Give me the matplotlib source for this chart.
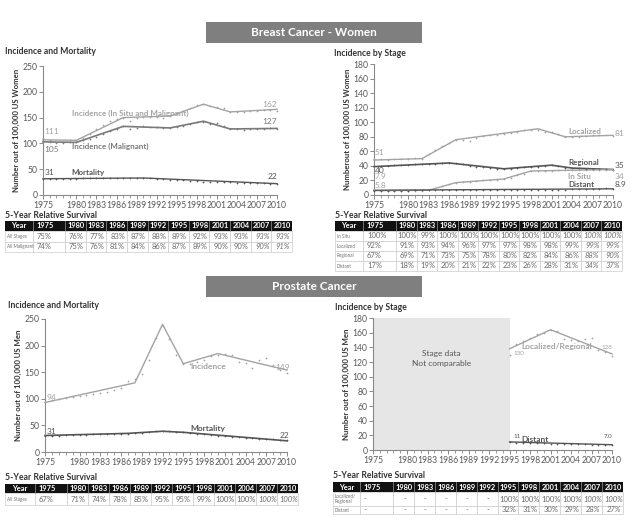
import matplotlib
matplotlib.use("Agg")
import matplotlib.pyplot as plt
from matplotlib.patches import Rectangle
from matplotlib.ticker import MultipleLocator
import numpy as np

plt.rcParams["font.family"] = ["Lato", "DejaVu Sans"]

W, H = 640, 522

# ------------------------------------------------------------------
# Data
# ------------------------------------------------------------------
years = list(range(1975, 2011))
tick_years = [1975, 1980, 1983, 1986, 1989, 1992, 1995, 1998, 2001, 2004, 2007, 2010]

# Breast - incidence and mortality (observed rates)
br_insitu_malig = [111, 106, 105, 105, 106, 107, 111, 118, 127, 135, 143, 148,
                   150, 143, 150, 152, 152, 151, 150, 153, 158, 162, 168, 174,
                   176, 172, 171, 169, 161, 160, 160, 162, 163, 164, 165, 162]
br_malignant = [105, 102, 101, 101, 102, 102, 106, 108, 113, 118, 124, 128,
                133, 128, 130, 133, 132, 131, 129, 130, 131, 133, 137, 141,
                142, 137, 139, 134, 127, 127, 126, 127, 128, 128, 130, 127]
br_mortality = [31, 31, 31, 31, 31, 31, 32, 32, 32, 33, 33, 32,
                33, 32, 33, 33, 32, 31, 31, 30, 29, 29, 28, 27,
                26, 26, 26, 25, 25, 24, 24, 24, 23, 23, 22, 22]
# trend (joinpoint) segments
br_insitu_malig_trend = ([1975, 1980, 1987, 1994, 1999, 2003, 2010],
                         [107, 106, 150, 153, 176, 161, 166])
br_malignant_trend = ([1975, 1980, 1987, 1994, 1999, 2003, 2010],
                      [103, 102, 133, 130, 143, 128, 129])
br_mortality_trend = ([1975, 1990, 2010], [31.5, 33, 22])

# Breast - incidence by stage
br_localized = [50, 49, 48, 49, 50, 50, 51, 50, 56, 62, 68, 72,
                76, 76, 74, 79, 81, 82, 82, 84, 85, 87, 89, 90,
                90, 87, 86, 84, 80, 80, 80, 81, 82, 82, 83, 81]
br_regional = [40, 40, 40, 41, 41, 41, 42, 43, 43, 43, 44, 44,
               44, 42, 40, 39, 38, 37, 36, 36, 36, 37, 38, 38,
               39, 40, 41, 40, 37, 37, 37, 36, 36, 36, 36, 35]
br_insitu = [7.9, 6, 6, 6, 6, 6, 6, 6, 7, 9, 12, 15,
             17, 18, 18, 19, 20, 21, 21, 22, 24, 27, 29, 33,
             33, 33, 33, 34, 34, 34, 35, 35, 35, 35, 35, 34]
br_distant = [5.8, 6, 6, 6, 6, 6, 7, 7, 7, 7, 7, 7,
              7, 7, 7, 7, 7, 7, 7, 7, 7, 7, 7, 7,
              7, 7, 7, 7, 7, 8, 8, 8, 8, 8, 9, 8.9]
br_localized_trend = ([1975, 1982, 1987, 1999, 2003, 2010], [48, 50, 76, 91, 80, 82])
br_regional_trend = ([1975, 1986, 1994, 2001, 2004, 2010], [39, 44, 36, 41, 37, 35])
br_insitu_trend = ([1975, 1983, 1987, 1994, 1998, 2010], [6, 6.5, 17, 22, 33, 35])
br_distant_trend = ([1975, 2010], [6.5, 8.5])

# Prostate - incidence and mortality
pr_incidence = [94, 97, 100, 102, 104, 106, 108, 109, 111, 113, 116, 120,
                134, 137, 146, 172, 215, 237, 212, 182, 166, 165, 170, 172,
                181, 183, 185, 183, 170, 168, 157, 173, 176, 163, 155, 149]
pr_mortality = [31, 31, 31, 32, 32, 32, 32, 33, 33, 33, 33, 34,
                34, 35, 36, 38, 39, 39, 39, 38, 37, 36, 34, 33,
                32, 31, 30, 29, 28, 27, 26, 25, 24, 24, 23, 22]
pr_incidence_trend = ([1975, 1988, 1992, 1995, 2000, 2010], [93, 130, 240, 166, 185, 154])
pr_mortality_trend = ([1975, 1987, 1992, 1995, 2010], [31, 35, 39, 37, 21])

# Prostate - incidence by stage (1995 onward)
pr_stage_years = list(range(1995, 2011))
pr_locreg = [130, 145, 148, 153, 158, 160, 163, 162, 151, 150, 148, 151, 153, 137, 134, 128]
pr_distant = [11, 10, 10, 9, 9, 9, 8, 8, 8, 8, 8, 8, 7, 7, 7, 7.0]
pr_locreg_trend = ([1995, 2001, 2010], [138, 164, 131])
pr_distant_trend = ([1995, 2010], [11, 7.2])

# 5-year relative survival tables
table_years = ["1975", "1980", "1983", "1986", "1989", "1992",
               "1995", "1998", "2001", "2004", "2007", "2010"]
br_surv_labels = ["All Stages", "All Malignant"]
br_surv_all = ["75%", "76%", "77%", "83%", "87%", "88%", "89%", "92%", "93%", "93%", "93%", "93%"]
br_surv_malig = ["74%", "75%", "76%", "81%", "84%", "86%", "87%", "89%", "90%", "90%", "90%", "91%"]
br_stage_labels = ["In Situ", "Localized", "Regional", "Distant"]
br_surv_insitu = ["100%", "100%", "99%", "100%", "100%", "100%", "100%", "100%", "100%", "100%", "100%", "100%"]
br_surv_local = ["92%", "91%", "93%", "94%", "96%", "97%", "97%", "98%", "98%", "99%", "99%", "99%"]
br_surv_region = ["67%", "69%", "71%", "73%", "75%", "78%", "80%", "82%", "84%", "86%", "88%", "90%"]
br_surv_distant = ["17%", "18%", "19%", "20%", "21%", "22%", "23%", "26%", "28%", "31%", "34%", "37%"]
pr_surv_labels = ["All Stages"]
pr_surv_all = ["67%", "71%", "74%", "78%", "85%", "95%", "95%", "99%", "100%", "100%", "100%", "100%"]
pr_stage_labels = ["Localized/\nRegional", "Distant"]
pr_surv_locreg = ["-", "-", "-", "-", "-", "-", "100%", "100%", "100%", "100%", "100%", "100%"]
pr_surv_distant = ["-", "-", "-", "-", "-", "-", "32%", "31%", "30%", "29%", "28%", "27%"]

LIGHT = "#a3a3a3"
MID = "#7a7a7a"
DARK = "#555555"
TEXT = "#333333"


def px_axes(fig, left, top, right, bottom):
    """Axes placed by pixel box (origin top-left)."""
    return fig.add_axes([left / W, 1 - bottom / H, (right - left) / W, (bottom - top) / H])


def style_chart(ax, ymax, ystep, ylabel):
    ax.set_xlim(1975, 2010)
    ax.set_ylim(0, ymax)
    for side in ("top", "right"):
        ax.spines[side].set_visible(False)
    for side in ("left", "bottom"):
        ax.spines[side].set_color("#8a8a8a")
        ax.spines[side].set_linewidth(0.8)
    ax.set_xticks(tick_years)
    ax.xaxis.set_minor_locator(MultipleLocator(1))
    ax.yaxis.set_major_locator(MultipleLocator(ystep))
    ax.tick_params(axis="both", which="major", labelsize=6.2, colors="#8a8a8a",
                   labelcolor="#5a5a5a", length=3, width=0.7, pad=1.0)
    ax.tick_params(axis="x", which="minor", colors="#8a8a8a", length=2, width=0.6)
    ax.set_ylabel(ylabel, fontsize=5.6, fontweight="bold", color=TEXT, labelpad=2)
    ax.patch.set_alpha(0)


def series(ax, xs, obs, trend, color, lw=1.0):
    ax.plot(xs, obs, linestyle="none", marker="+", ms=1.7, mew=0.5,
            color=color, clip_on=False, zorder=3)
    ax.plot(trend[0], trend[1], color=color, lw=lw, clip_on=False, zorder=2)


def note(ax, x, y, s, color, size=6, weight="normal", ha="left"):
    ax.text(x, y, s, fontsize=size, color=color, fontweight=weight,
            ha=ha, va="center", clip_on=False, zorder=4)


def draw_table(bg, x0, x1, label_w, first_w, top, heights, labels, rows):
    edges = [x0, x0 + label_w, x0 + label_w + first_w]
    edges += list(np.linspace(edges[-1], x1, 12)[1:])
    # header
    h0 = heights[0]
    bg.add_patch(Rectangle((x0, top), x1 - x0, h0, facecolor="#111111",
                           edgecolor="none", zorder=1))
    for e in edges[1:-1]:
        bg.plot([e, e], [top, top + h0], color="#9a9a9a", lw=0.5, zorder=2)
    yc = top + h0 / 2
    bg.text((edges[0] + edges[1]) / 2, yc, "Year", color="white", fontsize=5.4,
            fontweight="bold", ha="center", va="center", zorder=3)
    for i, yr in enumerate(table_years):
        if i == 0:
            bg.text(edges[1] + 3, yc, yr, color="white", fontsize=5.4,
                    fontweight="bold", ha="left", va="center", zorder=3)
        else:
            bg.text((edges[i + 1] + edges[i + 2]) / 2 + 0.5, yc, yr, color="white",
                    fontsize=5.4, fontweight="bold", ha="center", va="center", zorder=3)
    # body
    y = top + h0
    for label, vals, h in zip(labels, rows, heights[1:]):
        for j in range(len(edges) - 1):
            bg.add_patch(Rectangle((edges[j], y), edges[j + 1] - edges[j], h,
                                   facecolor="white", edgecolor="#cccccc",
                                   lw=0.5, zorder=1))
        yc = y + h / 2
        bg.text(edges[0] + 2, yc, label, color="#707070", fontsize=3.3,
                ha="left", va="center", zorder=3, linespacing=1.0)
        for i, v in enumerate(vals):
            style = "italic" if i >= len(vals) - 2 else "normal"
            if i == 0:
                bg.text(edges[1] + 4, yc, v, color="#6a6a6a", fontsize=5.5,
                        ha="left", va="center", style=style, zorder=3)
            else:
                bg.text((edges[i + 1] + edges[i + 2]) / 2 + 1, yc, v, color="#6a6a6a",
                        fontsize=5.5, ha="center", va="center", style=style, zorder=3)
        y += h


fig = plt.figure(figsize=(W / 100, H / 100), dpi=100)

# background axes in pixel coordinates for headers, titles and tables
bg = fig.add_axes([0, 0, 1, 1])
bg.set_xlim(0, W)
bg.set_ylim(H, 0)
bg.axis("off")

for top, title in ((22, "Breast Cancer - Women"), (276, "Prostate Cancer")):
    bg.add_patch(Rectangle((206, top), 216, 21, facecolor="#7f7f7f", edgecolor="none"))
    bg.text(314, top + 10.5, title, color="white", fontsize=8.5, fontweight="bold",
            ha="center", va="center")

for x, y, s in ((5, 52, "Incidence and Mortality"), (334, 54, "Incidence by Stage"),
                (8, 306, "Incidence and Mortality"), (335, 307, "Incidence by Stage")):
    bg.text(x, y, s, fontsize=6.2, fontweight="bold", color=TEXT, ha="left", va="center")

for x, y in ((5, 215), (335, 215), (5, 478), (333, 476)):
    bg.text(x, y, "5-Year Relative Survival", fontsize=6.2, fontweight="bold",
            color=TEXT, ha="left", va="center")

draw_table(bg, 5, 292, 28, 32, 221, [10, 10.5, 10.5],
           br_surv_labels, [br_surv_all, br_surv_malig])
draw_table(bg, 335, 622, 28, 33, 221, [10, 10, 10, 10, 10],
           br_stage_labels, [br_surv_insitu, br_surv_local, br_surv_region, br_surv_distant])
draw_table(bg, 5, 298, 30, 32, 484, [9, 12], pr_surv_labels, [pr_surv_all])
draw_table(bg, 333, 623, 27, 33, 482, [10, 14, 8],
           pr_stage_labels, [pr_surv_locreg, pr_surv_distant])

# ------------------------------------------------------------------
# Breast: incidence and mortality
# ------------------------------------------------------------------
ax1 = px_axes(fig, 43, 66, 277, 195)
style_chart(ax1, 250, 50, "Number out of 100,000 US Women")
series(ax1, years, br_insitu_malig, br_insitu_malig_trend, LIGHT)
series(ax1, years, br_malignant, br_malignant_trend, MID, lw=1.2)
series(ax1, years, br_mortality, br_mortality_trend, DARK)
note(ax1, 1979.3, 158, "Incidence (In Situ and Malignant)", LIGHT, 5.8, "bold")
note(ax1, 1979.3, 94, "Incidence (Malignant)", MID, 5.8, "bold")
note(ax1, 1979.3, 43, "Mortality", DARK, 5.8, "bold")
note(ax1, 1975.2, 123, "111", LIGHT)
note(ax1, 1975.2, 89, "105", MID)
note(ax1, 1975.2, 44, "31", DARK)
note(ax1, 2010, 176, "162", LIGHT, ha="right")
note(ax1, 2010, 143, "127", MID, ha="right")
note(ax1, 2010, 36, "22", DARK, ha="right")

# ------------------------------------------------------------------
# Breast: incidence by stage
# ------------------------------------------------------------------
ax2 = px_axes(fig, 374, 64, 613, 195)
style_chart(ax2, 180, 20, "Numberout of 100,000 US Women")
series(ax2, years, br_localized, br_localized_trend, LIGHT)
series(ax2, years, br_regional, br_regional_trend, DARK, lw=1.2)
series(ax2, years, br_insitu, br_insitu_trend, LIGHT)
series(ax2, years, br_distant, br_distant_trend, DARK)
note(ax2, 2003.4, 87, "Localized", LIGHT, 5.8, "bold")
note(ax2, 2003.4, 45, "Regional", DARK, 5.8, "bold")
note(ax2, 2003.4, 25, "In Situ", LIGHT, 5.8, "bold")
note(ax2, 2003.4, 14, "Distant", DARK, 5.8, "bold")
note(ax2, 2010.3, 84, "81", LIGHT)
note(ax2, 2010.3, 41, "35", DARK)
note(ax2, 2010.3, 26, "34", LIGHT)
note(ax2, 2010.3, 14, "8.9", DARK)
note(ax2, 1975.1, 59, "51", LIGHT)
note(ax2, 1975.1, 33, "40", DARK)
note(ax2, 1975.1, 25, "7.9", LIGHT)
note(ax2, 1975.1, 13, "5.8", LIGHT)

# ------------------------------------------------------------------
# Prostate: incidence and mortality
# ------------------------------------------------------------------
ax3 = px_axes(fig, 45, 319, 287, 452)
style_chart(ax3, 250, 50, "Number out of 100,000 US Men")
series(ax3, years, pr_incidence, pr_incidence_trend, LIGHT)
series(ax3, years, pr_mortality, pr_mortality_trend, DARK, lw=1.2)
note(ax3, 1996, 160, "Incidence", LIGHT, 6, "bold")
note(ax3, 1996, 44, "Mortality", DARK, 6, "bold")
note(ax3, 1975.2, 102, "94", LIGHT)
note(ax3, 1975.2, 38, "31", DARK)
note(ax3, 2010.4, 158, "149", LIGHT, ha="right")
note(ax3, 2010.4, 31, "22", DARK, ha="right")

# ------------------------------------------------------------------
# Prostate: incidence by stage
# ------------------------------------------------------------------
ax4 = px_axes(fig, 373, 318, 612, 450)
style_chart(ax4, 180, 20, "Number out of 100,000 US Men")
ax4.axvspan(1975, 1995, ymin=0, ymax=1, facecolor="#e6e6e6", edgecolor="none", zorder=0)
ax4.text(1985, 125, "Stage data\nNot comparable", fontsize=6, color="#555555",
         ha="center", va="center", linespacing=1.5)
series(ax4, pr_stage_years, pr_locreg, pr_locreg_trend, LIGHT)
series(ax4, pr_stage_years, pr_distant, pr_distant_trend, DARK)
note(ax4, 1996.7, 141, "Localized/Regional", LIGHT, 6, "bold")
note(ax4, 1996.7, 14, "Distant", DARK, 6, "bold")
note(ax4, 1995.5, 131, "130", LIGHT, 4.5)
note(ax4, 2010, 140, "128", LIGHT, 4.5, ha="right")
note(ax4, 1995.5, 19, "11", DARK, 4.5)
note(ax4, 2010, 18, "7.0", DARK, 4.5, ha="right")

fig.savefig("out.png", dpi=100)
